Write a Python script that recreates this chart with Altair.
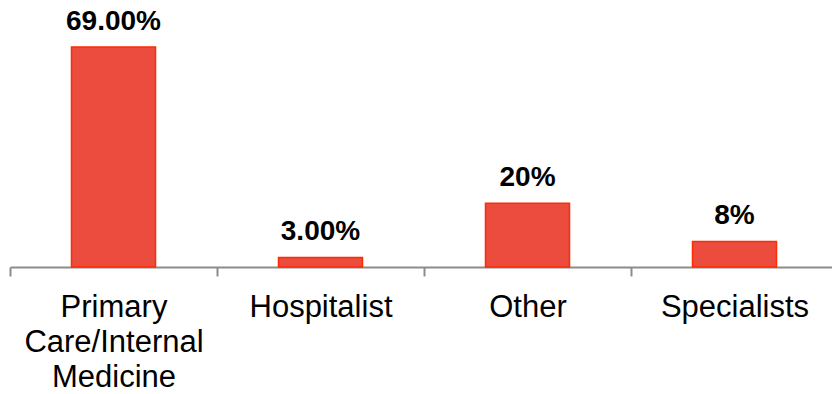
import altair as alt
import pandas as pd

categories = ["Primary Care/Internal Medicine", "Hospitalist", "Other", "Specialists"]
values = [69, 3, 20, 8]
labels = ["69.00%", "3.00%", "20%", "8%"]

df = pd.DataFrame({"cat": categories, "val": values, "lab": labels})

x = alt.X(
    "cat:N",
    sort=categories,
    title=None,
    scale=alt.Scale(range=[0, 828], paddingInner=0, paddingOuter=0),
    axis=alt.Axis(
        labelAngle=0,
        labelFont="Liberation Sans",
        labelFontSize=31,
        labelColor="#000000",
        labelPadding=16,
        labelLimit=400,
        labelLineHeight=35,
        labelExpr="datum.label == 'Primary Care/Internal Medicine' ? ['Primary', 'Care/Internal', 'Medicine'] : datum.label",
        tickBand="extent",
        tickSize=9,
        tickWidth=2,
        tickColor="#8c8c8c",
        domainColor="#8c8c8c",
        domainWidth=2,
        grid=False,
    ),
)
y = alt.Y("val:Q", scale=alt.Scale(domain=[0, 69], nice=False, zero=True), axis=None)

bars = alt.Chart(df).mark_bar(
    color="#EB4C3D", stroke="#FF2A00", strokeWidth=1.5, size=84
).encode(x=x, y=y)

text = alt.Chart(df).mark_text(
    font="Liberation Sans", fontSize=28, fontWeight="bold", color="#000000",
    baseline="alphabetic", dy=-17
).encode(x=alt.X("cat:N", sort=categories), y=y, text="lab:N")

chart = (bars + text).properties(
    width=822, height=220,
    padding={"left": 10, "top": 47, "right": 0, "bottom": 127},
    autosize=alt.AutoSizeParams(type="none"),
).configure_view(stroke=None)

chart.save("out.html", embed_options={"renderer": "svg", "actions": False})
